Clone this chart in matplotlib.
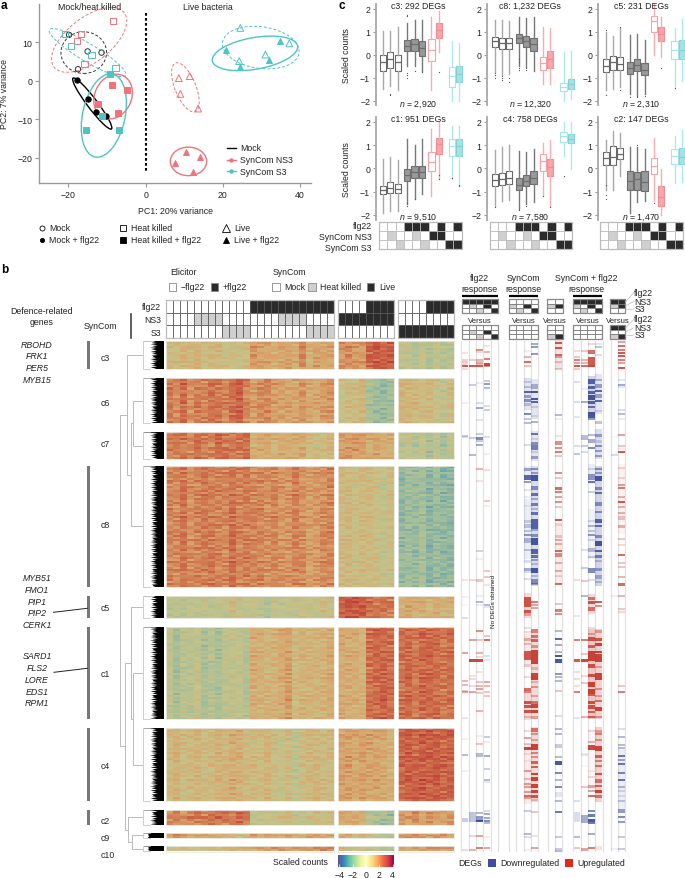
import numpy as np
import matplotlib
matplotlib.use('Agg')
import matplotlib.pyplot as plt
from matplotlib.colors import LinearSegmentedColormap
from matplotlib.patches import Ellipse, Rectangle

plt.rcParams['font.family'] = ['Liberation Sans', 'DejaVu Sans']
plt.rcParams['mathtext.fontset'] = 'custom'
plt.rcParams['mathtext.it'] = 'Liberation Sans:italic'
plt.rcParams['mathtext.rm'] = 'Liberation Sans'
plt.rcParams['axes.unicode_minus'] = True

W, H = 685, 879
PINK = '#f0737a'
TEAL = '#4fc4c4'
TXT = '#222222'
FS = 6.3

# panel a: PCA scores, (PC1, PC2)
mock_open = [(-19.8, 11.9), (-15, 7.6), (-11.4, 7.3), (-17.5, 3.0)]
mock_flg = [(-17.8, 0.1), (-15, -4.7), (-12.8, -8), (-10.3, -9.2)]
ns3_heat_open = [(-8.5, 15.5), (-16.8, 12.2), (-17.7, 10.4), (-15.8, 4.3)]
s3_heat_open = [(-20.9, 12.1), (-19.2, 9), (-14, 6.6), (-7.8, 3.3)]
ns3_heat_flg = [(-8.7, -1), (-4.8, -2.4), (-12.2, -6), (-7.1, -8.3)]
s3_heat_flg = [(-9.2, 1.7), (-15.5, -12.8), (-6.8, -12.8), (-11.2, -9.2)]
ns3_live_open = [(8.6, 0.7), (11.4, 1.2), (9, -3.4), (13.6, -7.2)]
ns3_live_flg = [(10.4, -18.5), (14.1, -19.8), (7.6, -21.2), (12.2, -23.7)]
s3_live_open = [(24.5, 13.7), (37.2, 9.7), (31, 6.8), (24.2, 5.1)]
s3_live_flg = [(20.7, 7.9), (34.9, 10.4), (32, 5.5), (24.4, 3.5)]

# centre x, centre y, width, height, angle, colour, dashed
pca_ellipses = [
	(-16, 7.3, 11.8, 10.8, 0, '#333333', True),
	(-14.6, 10.6, 23, 11.5, 38, PINK, True),
	(-15, 7.3, 23, 4.6, -31, TEAL, True),
	(-13.8, -5.9, 16.5, 2.6, -53, 'k', False),
	(-8.4, -4.1, 12, 9.5, 65, PINK, False),
	(-10.8, -9, 22, 11, 78, TEAL, False),
	(10.3, -1.7, 13.6, 5.4, -68, PINK, True),
	(11.1, -20.9, 9.4, 7.4, 0, PINK, False),
	(28.3, 7.1, 22.4, 8.2, 10, TEAL, False),
	(29.8, 8.6, 20, 10.8, -8, TEAL, True),
]

# panel c: q1, median, q3, low whisker, high whisker
box_c3 = [(-.7, -.3, 0, -1.5, 1.05), (-.6, -.2, .1, -1.35, 1.05), (-.7, -.33, 0, -1.55, 1.2), (.15, .4, .65, -.5, 1.4), (.15, .45, .7, -.5, 1.5), (-.05, .28, .6, -.7, 1.5), (-.28, .22, .7, -1.55, 1.65), (.75, 1.1, 1.4, .1, 1.9), (-1.4, -.95, -.55, -2, .6), (-1.18, -.85, -.48, -2, .5)]
box_c8 = [(.35, .58, .78, -.75, 1.5), (.25, .5, .73, -.9, 1.5), (.25, .5, .72, -.85, 1.45), (.5, .73, .92, -.5, 1.65), (.35, .6, .8, -.55, 1.6), (.15, .45, .73, -.7, 1.65), (-.65, -.35, -.12, -1.3, 1.2), (-.58, -.2, .18, -1.3, 1.15), (-1.6, -1.4, -1.22, -2, .1), (-1.48, -1.3, -1.08, -1.95, .15)]
box_c5 = [(-.75, -.5, -.2, -1.55, 1), (-.65, -.33, -.05, -1.5, .8), (-.65, -.4, -.1, -1.4, 1.15), (-.85, -.6, -.3, -1.7, .85), (-.7, -.45, -.17, -1.75, .9), (-.9, -.67, -.35, -1.7, .65), (1, 1.45, 1.68, 0, 2.2), (.58, .92, 1.22, -.1, 1.65), (-.2, .2, .6, -1.4, 1.15), (-.2, .22, .62, -1.15, 1.55)]
box_c1 = [(-1.1, -.93, -.78, -1.9, .4), (-1.05, -.85, -.6, -1.85, .5), (-1.08, -.88, -.68, -1.85, .35), (-.55, -.3, -.05, -1.55, 1.25), (-.4, -.15, .12, -1.3, 1), (-.42, -.15, .12, -1.1, 1.25), (-.12, .25, .68, -1.2, 1.7), (.6, 1.05, 1.3, -.4, 2), (.55, .95, 1.25, -.45, 1.8), (.55, .95, 1.25, -.7, 1.8)]
box_c4 = [(-.78, -.5, -.25, -1.6, .8), (-.72, -.47, -.2, -1.4, .9), (-.68, -.42, -.13, -1.35, 1), (-.92, -.7, -.4, -1.7, .75), (-.78, -.55, -.3, -1.55, .7), (-.68, -.42, -.13, -1.45, .85), (-.1, .32, .62, -1.15, 1.1), (-.35, .05, .4, -1.6, 1.2), (1.15, 1.38, 1.58, .55, 2), (1.08, 1.28, 1.48, -.05, 2)]
box_c2 = [(.15, .45, .68, -.95, 1.2), (.13, .48, .95, -.95, 1.6), (.38, .6, .88, -.35, 1.5), (-.95, -.55, -.12, -1.9, .9), (-.95, -.48, -.15, -1.45, .9), (-.98, -.58, -.1, -1.4, .85), (-.25, .08, .43, -1.4, 1.3), (-1.6, -1.25, -.75, -2, -.05), (.18, .53, .85, -.65, 1.4), (.18, .5, .87, -.6, 1.65)]
fliers_c3 = [[], [-1.75, -1.7], [], [-.8, -.9, -1, 1.7, 1.75], [-.7], [-.75], [], [-.75], [], []]
fliers_c8 = [[-.8, -.9, -1], [-.95, -1, -1.1], [-1.2, -1.0], [-.6, -.65, -.3, -.2], [-.6, -.65], [], [], [], [], []]
fliers_c5 = [[-1.75, 1.1], [], [-1.55, 1.2], [-1.85], [-1.8, -1.85], [-1.8], [], [-.6], [-1.45], []]
fliers_c1 = [[], [], [], [-1.6, -1.5], [-1.3], [], [], [-.45, -.3], [-.42], [-.7, -.75]]
fliers_c4 = [[-1.65], [], [], [-1.75, -1.8], [-1.6], [], [-1.2], [-1.65], [-.35], []]
fliers_c2 = [[-.7, -1.15, -1.3], [], [], [], [1.0], [], [-1.5], [], [], []]
box_titles = ['c3: 292 DEGs', 'c8: 1,232 DEGs', 'c5: 231 DEGs', 'c1: 951 DEGs', 'c4: 758 DEGs', 'c2: 147 DEGs']
box_counts = ['2,920', '12,320', '2,310', '9,510', '7,580', '1,470']
box_groups = [box_c3, box_c8, box_c5, box_c1, box_c4, box_c2]
flier_groups = [fliers_c3, fliers_c8, fliers_c5, fliers_c1, fliers_c4, fliers_c2]

# sample key below panel c, 0 white, 1 grey, 2 black
key_flg = [0, 0, 0, 2, 2, 2, 0, 2, 0, 2]
key_ns3 = [0, 1, 0, 0, 1, 0, 2, 2, 0, 0]
key_s3 = [0, 0, 1, 0, 0, 1, 0, 0, 2, 2]

# panel b: sample key of the heat map
head_flg = [0] * 12 + [2] * 12
head_ns3 = [0] * 4 + [1] * 4 + [0] * 8 + [1] * 4 + [0] * 4
head_s3 = [0] * 8 + [1] * 4 + [0] * 8 + [1] * 4
head2_flg = [0] * 4 + [2] * 4
head2_on = [2] * 8
head2_off = [0] * 8

# mean scaled counts of each cluster per sample: 24 heat killed/mock, 8 NS3, 8 S3
clusters = ['c3', 'c6', 'c7', 'c8', 'c5', 'c1', 'c4', 'c2', 'c9', 'c10']
heat_c3 = [.3, .2, .4, .3, .6, .1, .2, .4, .1, .1, 0, .2, 1.1, 1.0, .9, .6, .8, 1.0, .7, 1.3, .6, 1.0, .8, .9, 1.2, 1.3, 1.2, 1.1, 2.0, 2.2, 2.1, 2.2, -.4, -.2, -.6, -.1, -.7, -.2, -.6, -.4]
heat_c6 = [1.6, 1.4, 1.9, 1.2, 1.6, 1.5, 1.8, 1.6, 1.5, 1.9, 2.0, 1.5, 1.0, 1.3, 1.5, 1.0, .9, .9, .9, 1.2, .7, .8, 1.1, 1.1, 0, .2, .1, .5, -.8, -1.1, -1.2, -.9, .5, .3, .4, .2, .2, 0, -.3, .2]
heat_c7 = [1.6, 1.5, 1.7, 1.4, 1.8, 1.6, 1.5, 1.9, 1.8, 1.7, 1.7, 1.8, .6, .8, .7, .5, .7, .6, .7, .8, .2, .2, .3, .4, 1.0, 1.1, 1.2, .9, .7, .9, .6, .7, -.4, -.2, -.5, -.1, -.8, -.3, -.8, -.2]
heat_c8 = [1.5, 1.4, 1.7, 1.3, 1.5, 1.6, 1.6, 1.5, 1.4, 1.8, 1.5, 1.6, 1.4, 1.5, 1.3, 1.4, 1.2, 1.2, 1.5, 1.3, 1.0, 1.1, 1.3, 1.5, .3, .3, .1, .3, .2, .1, -.2, .1, -1.3, -1.0, -1.2, -.9, -1.4, -1.1, -1.4, -1.3]
heat_c5 = [-.4, -.3, -.5, -.2, -.3, -.2, -.4, -.2, -.2, .2, -.1, -.3, -.2, -.3, -.7, -.1, -.3, -.2, -.2, 0, -.2, -.1, .1, .1, 2.0, 2.2, 2.3, 2.2, 1.8, 1.7, 1.8, 1.6, .6, .8, .7, .6, .5, .7, .4, .6]
heat_c1 = [-.3, -.9, -.4, -.5, -.2, -.8, -.5, -.9, -.3, -.2, -.3, -.6, .7, .5, .5, .5, .7, 1.0, .3, .5, .4, .5, .5, .7, .8, .7, .6, .5, 1.8, 1.9, 2.0, 1.9, 1.8, 1.9, 1.7, 2.0, 1.9, 1.9, 1.7, 1.8]
heat_c4 = [.3, .5, .2, .3, .4, .2, .3, .5, .4, .7, .6, .2, .3, .2, .4, .1, -.1, .2, -.3, .2, .3, .4, .2, .3, .9, 1.0, .8, .9, .9, .9, .7, .6, 2.0, 2.1, 2.0, 2.2, 2.1, 2.1, 2.0, 2.1]
heat_c2 = [1.3, 1.5, 1.2, 1.5, 1.6, 1.5, 1.7, 1.8, 1.6, 1.7, 1.9, 1.6, -.2, -.4, -.1, -.2, 0, .2, -.3, -.4, -.1, .1, .2, .1, .8, .9, .7, .6, -.6, -.8, -1.0, -1.1, 1.1, .9, 1.2, 1.0, 1.2, .9, 1.0, 1.1]
heat_c9 = [1.2, 1.4, 1.1, 1.0, .9, 1.0, .8, .6, .4, .4, .3, .3, 1.1, .9, .9, .8, 1.0, 1, .7, .6, 1.0, .9, .8, .9, .7, .8, .5, .5, .2, 0, -.4, -.5, 1.1, 1.2, 1.2, 1.1, 1, 1.1, 1.2, 1.1]
heat_c10 = [-.2, -.1, 0, -.1, .1, .2, .3, .3, .5, .6, .5, .5, .8, .9, 1, 1, 1.1, 1.2, 1.2, 1.1, 1.3, 1.4, 1.5, 1.4, .2, 0, -.1, .2, -.4, -.3, -.5, -.4, .9, .8, 1, .9, 1.2, 1, 1.1, 1]
heat_means = [heat_c3, heat_c6, heat_c7, heat_c8, heat_c5, heat_c1, heat_c4, heat_c2, heat_c9, heat_c10]
# number of gene rows kept per cluster
heat_rows = [14, 22, 13, 60, 11, 46, 36, 7, 3, 3]
streaks = [
	[.2, -.5, .7, -.2, .4, -.8, .1, .6, -.4, .9, -.1, -.6, .3],
	[-.7, .3, -.1, .8, -.5, .2, .6, -.3, .1, -.9, .5, .2, -.4],
	[.5, .1, -.6, .3, .9, -.2, -.7, .4, .2, -.1, -.5, .8, -.3],
	[-.2, .8, .4, -.9, .1, .5, -.4, -.1, .7, .3, -.6, .1, .6],
	[.6, -.3, .2, .5, -.7, .9, .3, -.8, -.2, .4, .7, -.5, .1],
	[-.4, .6, -.8, .1, .3, -.1, .8, .2, -.6, .5, -.2, .4, -.7],
	[.9, -.1, .3, -.5, .6, .4, -.9, .7, .1, -.3, .2, -.8, .5],
	[-.1, .4, .7, .2, -.8, .3, .5, -.6, .9, -.4, .1, .6, -.2],
	[.3, -.9, .1, .6, .2, -.5, -.2, .8, -.3, .7, .4, -.1, -.6],
	[-.6, .2, .5, -.3, .7, .1, .4, -.5, .6, -.8, .9, -.2, .3],
	[.4, .7, -.4, .9, -.1, -.6, .2, .1, -.7, .3, -.3, .5, .8],
]
# merges of the cluster tree with their heights, nested triples
tree_top = ('c3', (('c6', 'c7', 9.3), 'c8', 11), 15)
tree_bottom = (('c5', ('c1', 'c4', 8.7), 11.3), ('c2', ('c9', 'c10', 9.7), 14), 16.7)
tree_root = (tree_top, tree_bottom, 22)
tree_jags = [9, 13, 7, 15, 10, 6, 12, 16, 8, 11, 14, 5, 10, 13, 7, 12, 15, 9, 6, 14, 11, 8, 13, 16, 7, 10]

# DEG strips: gene row, signed strength (blue down, red up), optional thickness
deg_flg0 = [(354, .15), (361, .25), (363, .3), (365, .2), (367, .9), (370, .2), (404, .1), (437, -.3), (438, -.2), (581, .15), (598, .1), (606, .05), (619, -.2), (654, .5), (682, .4), (686, .4), (693, .5), (692, .3), (719, -.15), (740, .1), (756, -.4), (772, .1), (821, -.3, 4), (851, .2)]
deg_flg1 = [(361, .25), (367, .9), (386, -.3), (439, -.3), (456, -.4), (581, .2), (641, .5), (661, 1, 3), (677, .15), (680, .2), (687, .2), (693, .5), (818, -.35, 10), (837, -.2), (851, .4)]
deg_flg2 = [(351, .6), (353, .2), (362, .4, 5), (365, .3), (367, .9), (384, -.1), (404, -.2), (409, -.5), (421, -.15), (435, -.3), (439, -.7, 3), (442, -.3), (446, -.5), (470, .4), (482, .15), (552, -.25), (560, .1), (581, .3, 3), (597, -.1), (603, -.4), (606, -.1), (632, .6), (641, .3), (654, .4), (658, .2), (661, 1, 3), (673, .15), (683, .3), (687, .4), (690, .5), (694, .3), (712, .4), (737, .1), (745, .3), (756, -.4, 4), (814, -.4), (819, -.6, 5), (822, -1), (837, .5, 2), (849, .7)]
deg_flg3 = [(347, .15), (353, .4), (360, .7), (365, 1, 3), (367, .6), (382, -.3), (385, -.6), (389, -.4), (407, -.2), (411, -.3), (438, -.2), (455, .1), (471, .2), (502, .3), (507, .1), (572, .3), (578, .3), (586, .15), (606, -.4), (608, -.15), (637, .3), (641, .8), (657, -.2), (661, -.15), (683, .5), (687, .4), (693, .3), (697, .3), (738, -.3), (743, -.1), (757, -.5, 2), (770, -.3), (781, -.4, 2), (783, -.15), (812, -.2), (815, -.5), (819, -.5), (822, -.7), (824, -.4), (838, .1), (849, .5)]
deg_syn2 = [(352, .1), (358, .4), (363, .8, 2), (367, .3), (380, -.2), (383, -.25), (388, -.3), (393, -.9, 2), (397, -.5, 3), (401, -.6, 3), (405, -.3, 3), (415, -.7, 2), (420, -.3), (424, -.4, 2), (446, -.2), (470, -.5, 3), (478, -.9, 5), (483, -.6), (491, -.15), (498, -.1), (507, -.1), (522, -.25, 3), (527, -.3, 4), (532, -.3), (536, -.6), (541, -.4, 5), (551, -.3), (562, -.2, 3), (570, -.5, 3), (573, -.2), (580, -.2), (600, .9, 5), (605, .9, 5), (612, .9, 3), (615, .4, 3), (629, .2), (633, .2), (640, .4, 3), (645, .3), (653, .9, 3), (658, .9, 6), (666, .3, 3), (678, .2), (690, .8, 3), (693, .6), (703, .9, 3), (707, .9, 3), (712, .9, 3), (718, .3), (732, .2), (739, .5, 2), (745, .3), (749, 1, 3), (755, .15), (762, .1), (772, .5), (780, .3), (785, .5, 2), (788, .5, 2), (793, .5), (797, .8), (799, .5), (812, -.3), (835, -.4), (838, -.2), (851, .1)]
deg_syn3 = [(345, -.5), (348, -.6), (355, -.6), (387, -.4, 5), (393, -1), (400, -1), (403, -.9), (408, -.2), (417, -.15), (423, -.45, 2), (435, -.8, 2), (440, -.15), (444, -.6, 3), (448, -.7, 5), (453, -.2), (458, -.5, 3), (470, -.6), (474, -.5), (479, -1, 6), (489, -.6, 4), (495, -.8, 3), (500, -.4), (505, -.7, 3), (510, -.3), (514, -.8, 3), (522, -.9, 5), (527, -.9, 5), (531, -.4), (536, -.6, 3), (542, -1, 7), (552, -.9, 5), (557, -.8, 3), (561, -.5), (565, -.3), (571, -1, 5), (577, -.3), (582, -.6, 5), (585, -.5), (603, .7), (606, .5), (609, .5), (632, .6, 4), (637, .7, 3), (641, .8, 3), (647, .5, 3), (653, 1, 4), (658, 1, 7), (663, 1, 3), (669, .3, 3), (677, 1, 7), (683, .3), (688, .5), (697, .4), (703, .7, 3), (707, 1, 4), (712, 1, 3), (718, .4, 3), (731, .7, 4), (735, .5, 2), (741, .4), (748, 1, 6), (754, .6, 2), (758, .5, 2), (763, .8, 3), (768, .8, 2), (775, 1), (780, 1, 4), (787, 1, 4), (792, 1, 3), (797, .9, 3), (801, .3), (813, .3), (837, -.15), (849, .5)]
deg_both1 = [(344, .9), (349, .9), (356, .8, 2), (358, .5), (363, .3), (370, .3), (416, -.4), (420, -.1), (437, .15), (444, .6, 4), (449, .6), (453, .7), (457, .3), (474, .6), (479, .3), (489, .8, 3), (493, .7), (498, .5), (503, .6), (508, .3), (521, .9, 2), (525, .2, 3), (537, .25, 3), (541, .4), (545, .4), (552, .8), (556, .6, 4), (564, .4, 2), (572, .4), (577, .2), (585, .8), (605, .3), (611, .7, 3), (615, .6, 2), (632, -.4), (640, -.9), (646, -.5), (653, -.4), (657, -1, 2), (662, -1, 4), (675, -.6), (678, -.4), (682, -.4), (692, .3), (717, -.2), (730, -.4), (735, -.4), (746, -.3), (748, -.3), (758, -.4), (764, -1, 4), (774, -.7), (781, -.4), (788, -.7), (795, -.15, 5), (802, -.4), (813, -.8), (838, -.3), (850, -.3), (852, -.4)]
deg_all0 = [(352, .2), (358, .3), (361, .7), (364, .5), (367, .9), (370, .3), (383, -.2), (403, -.2), (418, -.15), (447, -.2), (455, -.35), (581, .2), (617, -.15), (641, .7), (661, .9, 3), (673, .2), (680, .2), (687, .2), (693, .7), (719, -.15), (802, -.2), (818, -.2, 10), (838, -.4), (849, .3)]
deg_all1 = [(352, .3), (361, .4), (364, .4), (367, .8), (390, -.1), (403, -.5), (438, -.4, 5), (447, -.3), (453, -.2), (551, -.2), (569, -.3), (582, .3), (597, -.4, 2), (641, .7), (661, 1, 3), (655, .3), (677, .2), (684, .3), (718, .4), (755, -.15, 3), (767, .05), (788, .3), (820, -.5, 8), (850, .5, 3)]
deg_all2 = [(345, .2), (353, .8, 4), (360, .9, 5), (364, .9, 3), (367, 1), (382, -.9, 5), (388, -.9, 3), (393, -.9, 3), (398, -1, 5), (403, -.9, 3), (408, -.8), (416, -1, 6), (420, -.6), (436, -.4), (442, -.5, 4), (449, -.7), (470, -.2), (478, -.6, 6), (483, -.8), (493, -.3), (522, -.2), (527, -.4), (532, -.3), (536, -.6), (541, -.2), (551, -.4, 4), (558, -.3), (571, -.7, 5), (581, -.2), (599, .7, 3), (603, .9, 3), (610, .7, 4), (629, .2), (635, .4), (640, .9, 4), (647, .8, 3), (657, 1, 10), (667, .9, 4), (676, .9, 3), (685, 1, 5), (692, 1, 5), (696, .8), (703, .9, 3), (708, .9, 4), (713, .8), (718, .8, 2), (732, .2), (743, .4), (748, 1, 5), (772, .1), (778, .2), (787, .5, 3), (792, .5), (797, .8), (812, -.7), (816, -.8, 3), (821, -1, 3), (824, -.8), (835, -.5, 2), (849, .7)]
deg_all3 = [(345, -.15), (348, -.35, 2), (356, -.2), (381, -.4), (387, -.5, 4), (392, -.9, 2), (397, -.5, 4), (402, -.9), (412, -.2), (423, -.35, 3), (436, -.5, 3), (442, -.2, 3), (447, -.6), (452, -.5, 2), (457, -.5, 2), (470, -.6), (474, -.5), (479, -1, 5), (489, -.6, 3), (494, -.8), (505, -.6, 4), (513, -.6), (522, -.9, 4), (527, -.8), (537, -.6, 3), (544, -1, 5), (552, -.9), (557, -.7, 3), (562, -.3), (570, -.5, 3), (578, -.4, 4), (583, -.3), (603, .9), (607, .6), (632, .4, 3), (640, .9, 3), (645, 1, 3), (653, 1, 2), (659, 1, 8), (668, .4, 2), (677, 1, 7), (690, .5), (697, .4), (702, .7), (710, 1, 4), (718, .5), (732, .4, 3), (735, .6), (741, .5), (749, 1, 5), (757, .8, 3), (762, .6), (767, .7, 2), (775, .9, 2), (782, .7, 4), (787, .8), (792, 1, 3), (797, .7, 3), (849, .15, 4)]
deg_last0 = [(438, .05), (456, -.2), (597, .1), (850, .1)]
deg_last1 = [(343, .5), (347, .8), (351, .7), (354, .9), (357, .9), (361, .7), (364, .5), (369, .9), (381, -.15), (386, -.5), (388, -.15), (411, -.2), (415, -.4), (420, -.1), (436, .5), (447, .3), (450, .1), (453, .9), (469, .2), (479, .2), (486, .5), (489, .7), (498, .4), (503, .9), (508, .4), (514, .4), (519, .3, 4), (527, .4, 3), (540, .3), (546, .2), (556, .8, 2), (564, .3), (568, .3), (578, .4, 2), (585, .8, 3), (597, .4), (610, .3), (613, .2), (687, .3), (693, .7), (730, -.2), (738, -.4), (746, -.4), (749, -.4), (757, -.8, 2), (761, -.5), (765, -.8), (774, -.7), (781, -.8), (788, -.4), (792, -.2), (797, -.15), (802, -.3), (812, -.6, 4), (818, -.7), (823, -.6), (838, -.3), (850, -.3)]
# faint background of the dense stretches: row, strength, thickness
wash_syn2 = [(396, -.15, 30), (530, -.1, 60), (474, -.1, 14), (606, .2, 25), (650, .12, 30), (706, .2, 30), (775, .1, 60)]
wash_syn3 = [(400, -.15, 40), (447, -.15, 30), (527, -.2, 120), (675, .2, 90), (765, .2, 75)]
wash_all2 = [(397, -.25, 40), (475, -.1, 20), (535, -.08, 50), (605, .2, 20), (675, .3, 90), (760, .05, 60)]
wash_all3 = [(395, -.15, 40), (445, -.2, 30), (527, -.25, 120), (675, .25, 90), (765, .25, 75)]
wash_both1 = [(355, .15, 30), (555, .1, 60)]
wash_last1 = [(500, .07, 70), (780, -.1, 60)]

fig = plt.figure(figsize=(W / 100, H / 100), dpi=100)


def px_axes(x0, y0, x1, y1, **kw):
	return fig.add_axes([x0 / W, 1 - y1 / H, (x1 - x0) / W, (y1 - y0) / H], **kw)


over = fig.add_axes([0, 0, 1, 1], zorder=5)
over.set_xlim(0, W)
over.set_ylim(H, 0)
over.axis('off')
over.patch.set_alpha(0)


def label(x, y, s, ha='left', size=FS, **kw):
	kw.setdefault('color', TXT)
	over.text(x, y, s, ha=ha, va='center', fontsize=size, **kw)


def key_grid(x0, x1, y0, y1, rows, edge='#666666', outer='#bbbbbb'):
	colours = {0: 'white', 1: '#cfcfcf', 2: '#2b2b2b'}
	nrow, ncol = len(rows), len(rows[0])
	dx, dy = (x1 - x0) / ncol, (y1 - y0) / nrow
	for r, row in enumerate(rows):
		for c, v in enumerate(row):
			over.add_patch(Rectangle((x0 + c * dx, y0 + r * dy), dx, dy, fc=colours[v], ec=edge, lw=0.55))
	over.add_patch(Rectangle((x0, y0), x1 - x0, y1 - y0, fc='none', ec=outer, lw=0.9))


def draw_pca():
	ax = px_axes(39.3, 5, 311, 184)
	ax.set_xlim(-27.5, 42.8)
	ax.set_ylim(-26.5, 19.9)
	for s in ['top', 'right']:
		ax.spines[s].set_visible(False)
	for s in ['left', 'bottom']:
		ax.spines[s].set_color('#999999')
		ax.spines[s].set_linewidth(1.0)
	ax.set_xticks([-20, 0, 20, 40])
	ax.set_yticks([-20, -10, 0, 10])
	ax.tick_params(labelsize=FS, length=3, width=0.8, color='#999999', labelcolor=TXT, pad=2)
	ax.set_xlabel('PC1: 20% variance', fontsize=FS, color=TXT)
	ax.set_ylabel('PC2: 7% variance', fontsize=FS, color=TXT)
	ax.xaxis.set_label_coords(0.5, -0.126)
	ax.yaxis.set_label_coords(-0.11, 0.5)
	ax.plot([0, 0], [17.5, -23.4], color='k', lw=1.5, ls=(0, (1.3, 1.1)))
	for cx, cy, w, h, ang, col, dashed in pca_ellipses:
		ax.add_patch(Ellipse((cx, cy), w, h, angle=ang, fc='none', ec=col, lw=0.7 if dashed else 1.0, ls=(0, (3, 2)) if dashed else '-'))
	groups = [
		(mock_open, 'o', '#333333', False, 15), (mock_flg, 'o', 'k', True, 15),
		(ns3_heat_open, 's', PINK, False, 20), (s3_heat_open, 's', TEAL, False, 20),
		(ns3_heat_flg, 's', PINK, True, 22), (s3_heat_flg, 's', TEAL, True, 22),
		(ns3_live_open, '^', PINK, False, 24), (ns3_live_flg, '^', PINK, True, 18),
		(s3_live_open, '^', TEAL, False, 24), (s3_live_flg, '^', TEAL, True, 18),
	]
	for pts, marker, col, filled, size in groups:
		xs, ys = zip(*pts)
		ax.scatter(xs, ys, marker=marker, s=size, facecolors=col if filled else 'none', edgecolors=col, linewidths=0.7, zorder=3)
	# legend inside the axes
	for y, col, name, dot in [(148.7, 'k', 'Mock', False), (160.7, PINK, 'SynCom NS3', True), (172.3, TEAL, 'SynCom S3', True)]:
		over.plot([227, 236], [y, y], color=col, lw=1.0)
		if dot:
			over.plot([231.5], [y], 'o', color=col, ms=3.2, mew=0)
		label(240.5, y, name)
	# shape legend below
	for x, y, marker, filled, name, ms in [
		(42, 229, 'o', False, 'Mock', 3.6), (42, 241, 'o', True, 'Mock + flg22', 3.0),
		(123, 229, 's', False, 'Heat killed', 4.6), (123, 241, 's', True, 'Heat killed + flg22', 4.2),
		(226, 229, '^', False, 'Live', 5.6), (226, 241, '^', True, 'Live + flg22', 4.6)]:
		over.plot([x], [y], marker, ms=ms, mec='k', mew=0.6, mfc='k' if filled else 'none')
		label(x + (7 if marker == 'o' else 8), y, name)
	label(90, 7, 'Mock/heat killed', ha='center')
	label(208, 7, 'Live bacteria', ha='center')


def draw_boxes():
	box_face = ['white'] * 3 + ['#999999'] * 3 + ['white', '#f8a6aa', 'white', '#a6e2e4']
	box_edge = ['#666666'] * 3 + ['#6e6e6e'] * 3 + ['#f7a0a5', '#f08c92', '#a5e6e6', '#84d2d6']
	whisk = ['#a8a8a8'] * 3 + ['#777777'] * 3 + ['#f9adb0'] * 2 + ['#aee8e8'] * 2
	pos = [0, 1, 2, 3.3, 4.3, 5.3, 6.6, 7.6, 9.4, 10.4]
	lefts = [375.7, 487.3, 598.3]
	for i, (stats, fl) in enumerate(zip(box_groups, flier_groups)):
		col, row = i % 3, i // 3
		centre = 55.7 if row == 0 else 169.3
		half = 50.4 if row == 0 else 51.2
		ax = px_axes(lefts[col], centre - half, lefts[col] + 88, centre + half, facecolor='none')
		ax.set_xlim(-1, 11)
		ax.set_ylim(-2.2, 2.2)
		bxp_stats = [dict(q1=s[0], med=s[1], q3=s[2], whislo=s[3], whishi=s[4], fliers=f) for s, f in zip(stats, fl)]
		parts = ax.bxp(bxp_stats, positions=pos, widths=0.85, patch_artist=True, capwidths=0, manage_ticks=False,
			flierprops=dict(marker='o', ms=0.9, mfc='#555555', mec='none'))
		for j, box in enumerate(parts['boxes']):
			box.set(facecolor=box_face[j], edgecolor=box_edge[j], linewidth=0.8)
			parts['medians'][j].set(color=box_edge[j], linewidth=0.9)
			parts['whiskers'][2 * j].set(color=whisk[j], linewidth=1.0)
			parts['whiskers'][2 * j + 1].set(color=whisk[j], linewidth=1.0)
		for s in ['top', 'right', 'bottom']:
			ax.spines[s].set_visible(False)
		ax.spines['left'].set_color('#a8a8a8')
		ax.spines['left'].set_linewidth(1.3)
		ax.set_xticks([])
		ax.set_yticks([-2, -1, 0, 1, 2])
		ax.tick_params(labelsize=FS, length=2.5, width=0.8, color='#999999', labelcolor=TXT, pad=1.5)
		over.text(lefts[col] + 43, centre - half + 1, box_titles[i], ha='center', va='center', fontsize=FS, color=TXT)
		over.text(lefts[col] + 43, centre + 49, r'$\it{n}$ = ' + box_counts[i], ha='center', va='center', fontsize=FS, color=TXT)
		if col == 0:
			over.text(347, centre, 'Scaled counts', rotation=90, ha='center', va='center', fontsize=FS, color=TXT)
	for x0, x1 in [(379, 461.7), (490, 572), (600, 683)]:
		key_grid(x0, x1, 222.7, 250, [key_flg, key_ns3, key_s3], edge='#bbbbbb')
	label(372, 227, 'flg22', ha='right')
	label(372, 238, 'SynCom NS3', ha='right')
	label(372, 248.5, 'SynCom S3', ha='right')


heat_cmap = LinearSegmentedColormap.from_list('muted', [
	(0.0, '#5a4a9c'), (0.14, '#3d7fa8'), (0.25, '#6aa3ac'), (0.375, '#a2bf9b'), (0.5, '#c8c388'),
	(0.625, '#d9a56c'), (0.75, '#cd6a48'), (0.875, '#bb3238'), (1.0, '#8e1040')])


def draw_heat():
	bands = {'c3': (341.7, 370), 'c6': (379, 424.3), 'c7': (433.3, 460), 'c8': (467, 587.7), 'c5': (596.7, 619),
		'c1': (628, 720), 'c4': (729, 802), 'c2': (811, 826), 'c9': (834, 839), 'c10': (847.3, 852.5)}
	blocks = [(165.7, 333.7, 0, 24), (338.3, 394, 24, 32), (398.3, 454.3, 32, 40)]
	tex = np.array(streaks)
	for k, name in enumerate(clusters):
		y0, y1 = bands[name]
		means = np.array(heat_means[k])
		rows = np.arange(heat_rows[k])
		cols = np.arange(40)
		# each gene row gets its own offset into the table
		dev = tex[(rows[:, None] + k) % tex.shape[0], (cols + rows[:, None] * 5 + k) % tex.shape[1]]
		values = means + dev * 0.5 + (tex[(rows + 3) % tex.shape[0], 0])[:, None] * 0.25
		for x0, x1, c0, c1 in blocks:
			ax = px_axes(x0, y0, x1, y1)
			ax.imshow(values[:, c0:c1], aspect='auto', cmap=heat_cmap, vmin=-4, vmax=4, interpolation='nearest')
			ax.set_xticks([])
			ax.set_yticks([])
			for s in ax.spines.values():
				s.set_color('#e8e8e0')
				s.set_linewidth(0.6)
		# leaves of the tree, a black block with white gaps
		ys = np.arange(y0, y1 + 0.3, 0.6)
		jag = np.array([tree_jags[(j + 3 * k) % len(tree_jags)] for j in range(len(ys))], dtype=float)
		jag = jag * (0.2 if y1 - y0 < 10 else 0.7)
		over.fill_betweenx([y0, y1], 144, 164, color='k', lw=0)
		over.fill_betweenx(ys, 143, 146 + jag, color='white', lw=0)
		over.plot([150, 143, 143, 150], [y0, y0, y1, y1], color='#bbbbbb', lw=0.5)
	# cluster tree from the merge heights
	centre = {n: sum(bands[n]) / 2 for n in clusters}
	def walk(node):
		if isinstance(node, str):
			return centre[node], 0
		a, b, h = node
		ya, ha = walk(a)
		yb, hb = walk(b)
		x = 142 - h
		over.plot([142 - ha, x, x, 142 - hb], [ya, ya, yb, yb], color='#bbbbbb', lw=0.7)
		return (ya + yb) / 2, h
	walk(tree_root)

	# sample key
	key_grid(165.7, 333.7, 301, 339, [head_flg, head_ns3, head_s3], edge='#555555')
	key_grid(338.3, 394, 301, 339, [head2_flg, head2_on, head2_off], edge='#555555')
	key_grid(398.3, 454.3, 301, 339, [head2_flg, head2_off, head2_on], edge='#555555')
	label(161, 308, 'flg22', ha='right')
	label(161, 321, 'NS3', ha='right')
	label(161, 334, 'S3', ha='right')
	over.plot([131, 131], [315, 339], color='#333333', lw=1.1)
	label(100, 327, 'SynCom', ha='center')
	label(42, 312, 'Defence-related', ha='center')
	label(42, 322.7, 'genes', ha='center')
	# key legends
	label(170, 273, 'Elicitor')
	label(272.7, 273, 'SynCom')
	for x, col, name, tx in [(169, 'white', '\u2212flg22', 181), (211, '#2b2b2b', '+flg22', 222.5), (272.5, 'white', 'Mock', 284),
		(308.5, '#cfcfcf', 'Heat killed', 320), (367, '#2b2b2b', 'Live', 379)]:
		over.add_patch(Rectangle((x, 284), 7.5, 8, fc=col, ec='#888888', lw=0.6))
		label(tx, 288, name)
	# genes and cluster names
	genes = [('RBOHD', 345.5), ('FRK1', 357), ('PER5', 369), ('MYB15', 381), ('MYB51', 579), ('FMO1', 591), ('PIP1', 602.5),
		('PIP2', 614), ('CERK1', 626), ('SARD1', 657), ('FLS2', 669), ('LORE', 680.5), ('EDS1', 692.5), ('RPM1', 704)]
	for g, y in genes:
		label(37, y, g, ha='center', style='italic')
	names_y = [359, 403.3, 445, 526, 609, 675, 766.7, 822, 839, 855.7]
	for n, y in zip(clusters, names_y):
		label(101, y, n)
	for n in ['c3', 'c8', 'c5', 'c1', 'c4', 'c2']:
		y0, y1 = bands[n]
		over.add_patch(Rectangle((87.5, y0), 3, y1 - y0, fc='#777777', ec='none'))
	over.plot([53.5, 87.3], [613.3, 609.3], color='#222222', lw=0.7)
	over.plot([54, 87.3], [673.3, 669.3], color='#222222', lw=0.7)
	# colour bar
	cax = px_axes(338, 856, 394, 868)
	cax.imshow(np.linspace(-4, 4, 200)[None, :], aspect='auto', cmap='Spectral_r', vmin=-4, vmax=4, extent=[-4.2, 4.2, 0, 1])
	cax.set_yticks([])
	cax.set_xticks([-4, -2, 0, 2, 4])
	cax.set_xticklabels(['\u22124', '\u22122', '0', '2', '4'])
	cax.tick_params(labelsize=FS, length=2, width=0.5, direction='in', color='white', labelcolor=TXT, pad=2.5)
	for s in cax.spines.values():
		s.set_visible(False)
	label(328, 862.7, 'Scaled counts', ha='right')


def draw_deg():
	ax = px_axes(455, 340, 635, 853, facecolor='none')
	ax.set_xlim(455, 635)
	ax.set_ylim(853, 340)
	ax.axis('off')
	dx = 7.3
	# left edge, column count and strips of each comparison
	groups = [
		(461.4, 5, [deg_flg0, deg_flg1, deg_flg2, deg_flg3, []]),
		(509, 4, [[], [], deg_syn2 + wash_syn2, deg_syn3 + wash_syn3]),
		(547.7, 2, [[], deg_both1 + wash_both1]),
		(573.3, 4, [deg_all0, deg_all1, deg_all2 + wash_all2, deg_all3 + wash_all3]),
		(610.7, 2, [deg_last0, deg_last1 + wash_last1]),
	]
	for left, n, strips in groups:
		for c in range(n + 1):
			ax.plot([left + c * dx] * 2, [342, 852.5], color='#e0e0e0', lw=0.9, zorder=1)
		for c, bands in enumerate(strips):
			for b in bands:
				thick = b[2] if len(b) > 2 else 1.3
				col = '#c22a1c' if b[1] > 0 else '#2b3d8f'
				ax.barh(b[0], dx - 0.6, height=thick, left=left + c * dx + 0.3, color=col, alpha=abs(b[1]) * 0.85, lw=0, zorder=2)
	over.text(494, 601.5, 'No DEGs obtained', rotation=90, ha='center', va='center', fontsize=4.6, color=TXT)

	# headers of the comparisons
	K0, KG, KB = 0, 1, 2
	top_flg = [[KB] * 5, [K0, KG, K0, KB, K0], [K0, K0, KG, K0, KB]]
	vs_flg = [[K0] * 5, [K0, KG, K0, KB, K0], [K0, K0, KG, K0, KB]]
	top_syn = [[K0] * 4, [KG, K0, KB, K0], [K0, KG, K0, KB]]
	vs_all = [[K0] * 4, [K0] * 4, [K0] * 4]
	top_s = [[K0, K0], [KG, KB], [K0, K0]]
	vs_s = [[K0, K0], [K0, K0], [KG, KB]]
	top_all = [[KB] * 4, [KG, K0, KB, K0], [K0, KG, K0, KB]]
	top_l = [[KB, KB], [KG, KB], [K0, K0]]
	vs_l = [[KB, KB], [K0, K0], [KG, KB]]
	heads = [(461.7, 498, top_flg, vs_flg, True), (509, 537.7, top_syn, vs_all, True), (547.3, 562.7, top_s, vs_s, False),
		(572.7, 602, top_all, vs_all, True), (610.3, 625.3, top_l, vs_l, False)]
	for x0, x1, top, vs, bar in heads:
		key_grid(x0, x1, 300.3, 313.7, top, edge='#777777', outer='#888888')
		key_grid(x0, x1, 326.3, 339.7, vs, edge='#777777', outer='#888888')
		label((x0 + x1) / 2, 322, 'Versus', ha='center', size=5.6)
		if bar:
			over.plot([x0, x1], [297.3, 297.3], color='k', lw=1.6, solid_capstyle='butt')
	label(479.7, 279, 'flg22', ha='center')
	label(479.7, 289.3, 'response', ha='center')
	label(523.3, 279, 'SynCom', ha='center')
	label(523.3, 289.3, 'response', ha='center')
	label(586.7, 279, 'SynCom + flg22', ha='center')
	label(586.7, 289.3, 'response', ha='center')
	for y_lab, y_row, name in [(293.3, 303, 'flg22'), (302.3, 307, 'NS3'), (310, 311, 'S3'), (320, 329, 'flg22'), (328.7, 333, 'NS3'), (336, 337, 'S3')]:
		over.plot([625.5, 634], [y_row, y_lab], color='#bbbbbb', lw=0.5)
		label(634.3, y_lab, name)
	# DEG legend
	label(458.7, 864, 'DEGs')
	over.add_patch(Rectangle((487.7, 860), 8, 8, fc='#3f4ba8', ec='none'))
	label(500.7, 864, 'Downregulated')
	over.add_patch(Rectangle((565, 860), 8, 8, fc='#e02a18', ec='none'))
	label(577.7, 864, 'Upregulated')


draw_pca()
draw_boxes()
draw_heat()
draw_deg()

for x, y, s in [(1, 6, 'a'), (1, 270, 'b'), (339, 6, 'c')]:
	over.text(x, y, s, fontsize=8.5, fontweight='bold', va='center', color='k')

fig.savefig('out.png', dpi=100)
